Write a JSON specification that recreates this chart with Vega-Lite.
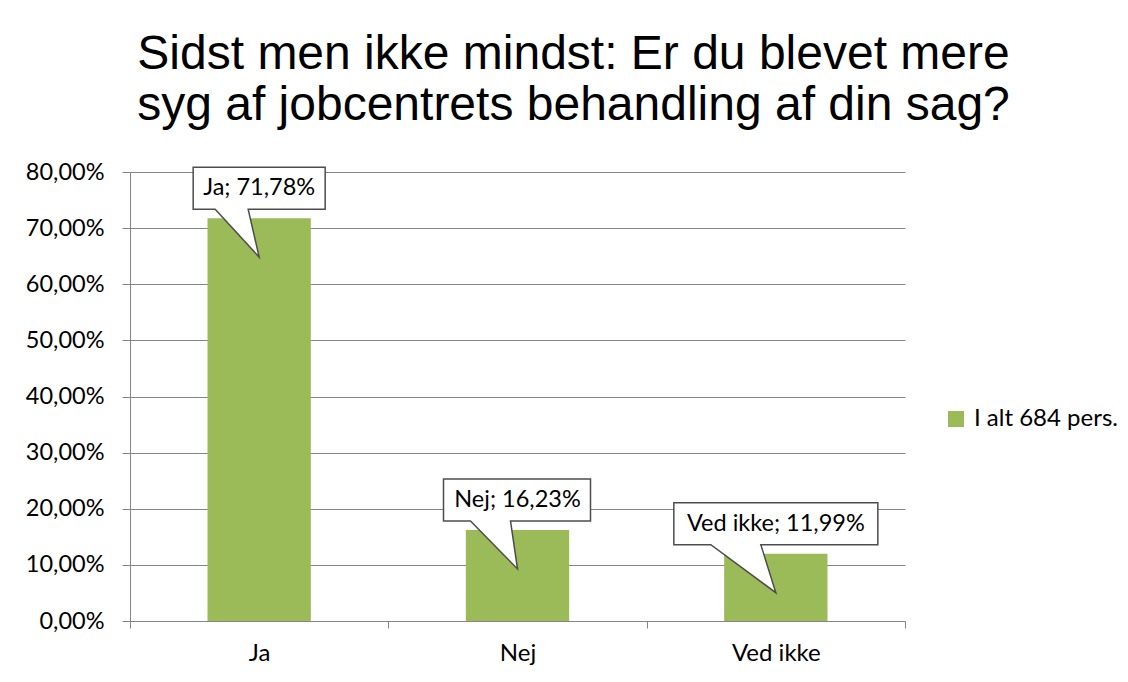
{
  "$schema": "https://vega.github.io/schema/vega-lite/v6.json",
  "autosize": "none",
  "width": 775,
  "height": 449,
  "padding": {"left": 130, "top": 172, "right": 223, "bottom": 61},
  "background": "white",
  "title": {
    "text": ["Sidst men ikke mindst: Er du blevet mere", "syg af jobcentrets behandling af din sag?"],
    "font": "Liberation Sans",
    "fontSize": 48,
    "fontWeight": "normal",
    "color": "black",
    "lineHeight": 51,
    "anchor": "middle",
    "dx": 56,
    "offset": 30
  },
  "data": {
    "values": [
      {"cat": "Ja", "value": 0.7178, "label": "Ja; 71,78%", "series": "I alt 684 pers."},
      {"cat": "Nej", "value": 0.1623, "label": "Nej; 16,23%", "series": "I alt 684 pers."},
      {"cat": "Ved ikke", "value": 0.1199, "label": "Ved ikke; 11,99%", "series": "I alt 684 pers."}
    ]
  },
  "encoding": {
    "x": {
      "field": "cat",
      "type": "nominal",
      "sort": null,
      "scale": {"paddingInner": 0, "paddingOuter": 0},
      "axis": {
        "title": null,
        "labelAngle": 0,
        "tickBand": "extent",
        "tickSize": 7,
        "labelPadding": 13,
        "labelFont": "Lato",
        "labelFontSize": 24,
        "labelColor": "black",
        "domainColor": "#868686",
        "tickColor": "#868686",
        "grid": false
      }
    },
    "y": {
      "field": "value",
      "type": "quantitative",
      "scale": {"domain": [0, 0.8], "nice": false},
      "axis": {
        "title": null,
        "values": [0, 0.1, 0.2, 0.3, 0.4, 0.5, 0.6, 0.7, 0.8],
        "format": ".2%",
        "tickSize": 8,
        "labelPadding": 18,
        "labelFont": "Lato",
        "labelFontSize": 23.5,
        "labelColor": "black",
        "domainColor": "#868686",
        "tickColor": "#868686",
        "grid": true,
        "gridColor": "#868686",
        "gridOpacity": 1
      }
    }
  },
  "layer": [
    {
      "mark": {"type": "bar", "width": {"band": 0.4}},
      "encoding": {
        "color": {
          "field": "series",
          "type": "nominal",
          "scale": {"range": ["#9BBB59"]},
          "legend": {
            "title": null,
            "orient": "none",
            "legendX": 814,
            "legendY": 235,
            "symbolType": "square",
            "symbolSize": 256,
            "symbolStrokeWidth": 0,
            "labelFont": "Lato",
            "labelFontSize": 24,
            "labelColor": "black",
            "labelOffset": 6,
            "padding": 0
          }
        }
      }
    },
    {
      "mark": {"type": "point", "size": 4, "filled": true, "fill": "white", "stroke": "#4d4d4d", "strokeWidth": 1.5, "opacity": 1},
      "encoding": {
        "shape": {
          "field": "cat",
          "type": "nominal",
          "legend": null,
          "scale": {
            "domain": ["Ja", "Nej", "Ved ikke"],
            "range": [
              "M-66,-51L66,-51L66,-9L-11,-9L0,39L-44,-9L-66,-9Z",
              "M-74,-51L73,-51L73,-9L-7,-9L0,39L-47,-9L-74,-9Z",
              "M-102,-51L102,-51L102,-9L-15,-9L0,39L-65,-9L-102,-9Z"
            ]
          }
        }
      }
    },
    {
      "mark": {"type": "text", "font": "Lato", "fontSize": 23.5, "color": "black", "dy": -30, "baseline": "middle", "align": "center"},
      "encoding": {
        "text": {"field": "label"}
      }
    }
  ],
  "config": {
    "view": {"stroke": null},
    "locale": {"number": {"decimal": ",", "thousands": ".", "grouping": [3], "currency": ["", " kr."]}}
  }
}
